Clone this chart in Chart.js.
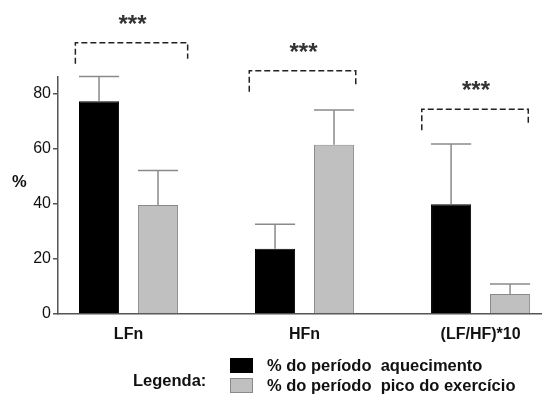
<!DOCTYPE html>
<html>
<head>
<meta charset="utf-8">
<script src="https://cdn.jsdelivr.net/npm/chart.js@4/dist/chart.umd.min.js"></script>
<style>
  html, body { margin: 0; padding: 0; background: #fff; }
  #wrap { width: 542px; height: 394px; }
</style>
</head>
<body>
<div id="wrap"><canvas id="c" width="542" height="394"></canvas></div>
<script>
// Categories and series (mean % and SD)
const categories = ['LFn', 'HFn', '(LF/HF)*10'];
const aquecimento = [77.3, 23.7, 39.9];
const aquecimentoSD = [9.0, 8.9, 21.9];
const pico = [39.6, 61.5, 7.3];
const picoSD = [12.5, 12.6, 3.6];
const significance = ['***', '***', '***'];
const yTicks = [0, 20, 40, 60, 80];
const seriesLabels = ['% do período  aquecimento', '% do período  pico do exercício'];
const legendTitle = 'Legenda:';
const yLabel = '%';

const FONT = '"Liberation Sans", Arial, sans-serif';
const AXIS = '#555';

const toPoints = arr => arr.map((v, i) => ({ x: i, y: v }));

// Upward error bars with a cap the width of the bar
const errorBars = {
  id: 'errorBars',
  afterDatasetsDraw(chart) {
    const ctx = chart.ctx, y = chart.scales.y;
    chart.data.datasets.forEach((ds, di) => {
      const meta = chart.getDatasetMeta(di);
      meta.data.forEach((bar, i) => {
        const top = y.getPixelForValue(ds.data[i].y + ds.sd[i]);
        const half = bar.width / 2;
        ctx.save();
        ctx.strokeStyle = '#8a8a8a';
        ctx.lineWidth = 1.5;
        ctx.beginPath();
        ctx.moveTo(bar.x, bar.y);
        ctx.lineTo(bar.x, top);
        ctx.moveTo(bar.x - half, top);
        ctx.lineTo(bar.x + half, top);
        ctx.stroke();
        ctx.restore();
      });
    });
  }
};

// Dashed significance brackets above each pair of bars
const brackets = {
  id: 'brackets',
  afterDatasetsDraw(chart, args, opts) {
    const ctx = chart.ctx, x = chart.scales.x, y = chart.scales.y;
    opts.items.forEach((b, i) => {
      const left = x.getPixelForValue(i + b.from);
      const right = x.getPixelForValue(i + b.to);
      const top = y.getPixelForValue(b.level);
      ctx.save();
      ctx.strokeStyle = '#222';
      ctx.lineWidth = 1.5;
      ctx.setLineDash([6, 3]);
      ctx.beginPath();
      ctx.moveTo(left, top + 21);
      ctx.lineTo(left, top);
      ctx.lineTo(right, top);
      ctx.lineTo(right, top + 16);
      ctx.stroke();
      ctx.setLineDash([]);
      ctx.fillStyle = '#333';
      ctx.font = 'bold 24px ' + FONT;
      ctx.textAlign = 'center';
      ctx.textBaseline = 'alphabetic';
      ctx.fillText(significance[i], (left + right) / 2 + 1, top - 11);
      ctx.restore();
    });
  }
};

// Axis title and stacked legend drawn on the canvas
const extras = {
  id: 'extras',
  afterDraw(chart) {
    const ctx = chart.ctx;
    ctx.save();
    ctx.fillStyle = '#111';
    ctx.font = 'bold 16.5px ' + FONT;
    ctx.textBaseline = 'middle';
    ctx.textAlign = 'left';
    ctx.fillText(yLabel, 12, 182);
    ctx.fillText(legendTitle, 133, 381);
    chart.data.datasets.forEach((ds, i) => {
      const yy = 358 + i * 20;
      ctx.fillStyle = ds.backgroundColor;
      ctx.fillRect(230, yy, 23, 15);
      ctx.strokeStyle = ds.borderColor;
      ctx.lineWidth = 1;
      ctx.strokeRect(230.5, yy + 0.5, 22, 14);
      ctx.fillStyle = '#111';
      ctx.fillText(seriesLabels[i], 267, yy + 8);
    });
    ctx.restore();
  }
};

new Chart(document.getElementById('c'), {
  type: 'bar',
  data: {
    datasets: [
      { label: seriesLabels[0], data: toPoints(aquecimento), sd: aquecimentoSD,
        backgroundColor: '#000', borderColor: '#000', borderWidth: 1 },
      { label: seriesLabels[1], data: toPoints(pico), sd: picoSD,
        backgroundColor: '#c0c0c0', borderColor: '#8a8a8a', borderWidth: 1 }
    ]
  },
  options: {
    responsive: false,
    animation: false,
    devicePixelRatio: 1,
    layout: { padding: { top: 77, right: 0, left: 0, bottom: 0 } },
    categoryPercentage: 0.67,
    barPercentage: 0.68,
    plugins: {
      legend: { display: false },
      tooltip: { enabled: false },
      brackets: {
        items: [
          { from: -0.302, to: 0.336, level: 98.5 },
          { from: -0.314, to: 0.291, level: 88.4 },
          { from: -0.334, to: 0.271, level: 74.4 }
        ]
      }
    },
    scales: {
      x: {
        type: 'linear',
        offset: false,
        min: -0.4006,
        max: 2.349,
        afterBuildTicks: s => { s.ticks = categories.map((_, i) => ({ value: i })); },
        afterFit: s => { s.height = 80; },
        grid: { display: false, drawTicks: false },
        border: { display: true, color: AXIS, width: 1.5 },
        ticks: {
          callback: v => categories[v],
          color: '#111',
          font: { family: FONT, size: 16, weight: 'bold' },
          padding: 11,
          maxRotation: 0
        }
      },
      y: {
        min: 0,
        max: 86.1,
        afterBuildTicks: s => { s.ticks = yTicks.map(v => ({ value: v })); },
        afterFit: s => { s.width = 58; },
        grid: { drawOnChartArea: false, drawTicks: true, tickLength: 5, color: AXIS, lineWidth: 1.5 },
        border: { display: true, color: AXIS, width: 1.5 },
        ticks: {
          color: '#111',
          font: { family: FONT, size: 16 },
          padding: 2
        }
      }
    }
  },
  plugins: [errorBars, brackets, extras]
});
</script>
</body>
</html>
